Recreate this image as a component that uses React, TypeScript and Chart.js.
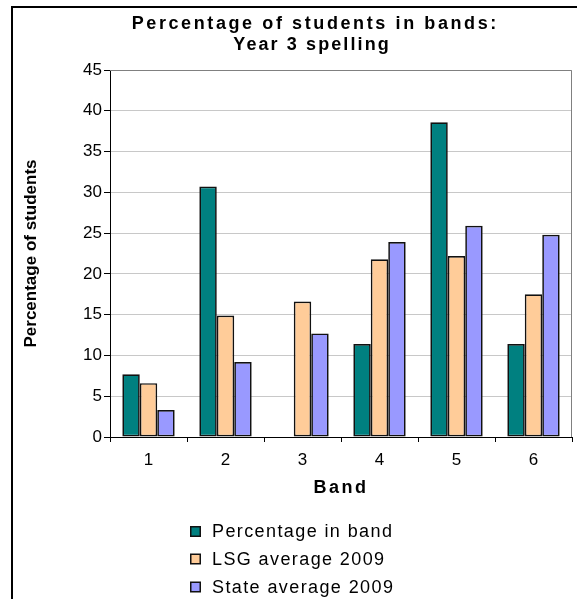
import React, { useEffect, useRef } from 'react';
import { Chart, registerables, CategoryScale, LinearScale } from 'chart.js';

Chart.register(...registerables);

// ---- data ----
const bands = ['1', '2', '3', '4', '5', '6'];
const percentageInBand = [7.7, 30.7, 0, 11.4, 38.6, 11.4];
const lsgAverage2009 = [6.6, 14.9, 16.6, 21.8, 22.2, 17.5];
const stateAverage2009 = [3.3, 9.2, 12.7, 23.9, 25.9, 24.8];
const seriesNames = ['Percentage in band', 'LSG average 2009', 'State average 2009'];
const seriesColors = ['#008080', '#FFCC99', '#9999FF'];
const titleLines = ['Percentage of students in bands:', 'Year 3 spelling'];
const xAxisTitle = 'Band';
const yAxisTitle = 'Percentage of students';
const yMin = 0;
const yMax = 45;
const yStep = 5;

const FONT = '"Liberation Sans", Arial, Helvetica, sans-serif';

function withTitleSpacing(Base: any, id: string, spacing: string) {
  class Spaced extends Base {
    drawTitle() {
      const ctx = (this as any).ctx;
      ctx.save();
      ctx.letterSpacing = spacing;
      super.drawTitle();
      ctx.restore();
    }
  }
  (Spaced as any).id = id;
  (Spaced as any).defaults = Base.defaults;
  return Spaced;
}

const SpacedCategory = withTitleSpacing(CategoryScale, 'spacedCategory', '2.5px');
const SpacedLinear = withTitleSpacing(LinearScale, 'spacedLinear', '0px');
Chart.register(SpacedCategory as any, SpacedLinear as any);

function drawSpaced(ctx: any, text: string, cx: number, y: number, spacing: number) {
  ctx.letterSpacing = spacing + 'px';
  const w = ctx.measureText(text).width - spacing;
  ctx.fillText(text, cx - w / 2, y);
}

const decorPlugin = {
  id: 'decor',
  beforeDatasetsDraw(chart: any) {
    const { ctx, chartArea: a } = chart;
    ctx.save();
    ctx.strokeStyle = '#808080';
    ctx.lineWidth = 1;
    ctx.beginPath();
    ctx.moveTo(a.left, a.top + 0.5);
    ctx.lineTo(a.right - 0.5, a.top + 0.5);
    ctx.lineTo(a.right - 0.5, a.bottom);
    ctx.stroke();
    ctx.restore();
  },
  afterDraw(chart: any) {
    const { ctx } = chart;
    ctx.save();
    // outer frame
    ctx.fillStyle = '#000';
    ctx.fillRect(11, 6, chart.width - 11, 2);
    ctx.fillRect(11, 6, 2, chart.height - 6);
    // title
    ctx.fillStyle = '#000';
    ctx.textAlign = 'left';
    ctx.textBaseline = 'alphabetic';
    ctx.font = `bold 18px ${FONT}`;
    drawSpaced(ctx, titleLines[0], 314, 29, 2.6);
    drawSpaced(ctx, titleLines[1], 311, 50, 2.1);
    // legend
    ctx.font = `18px ${FONT}`;
    const rowsY = [537, 564.5, 592.5];
    seriesNames.forEach((name, i) => {
      const by = rowsY[i] - 11;
      ctx.fillStyle = '#111';
      ctx.fillRect(190, by, 11, 11);
      ctx.fillStyle = seriesColors[i];
      ctx.fillRect(191.5, by + 1.5, 8, 8);
      ctx.fillStyle = '#000';
      ctx.letterSpacing = '1.4px';
      ctx.fillText(name, 212, rowsY[i]);
    });
    ctx.restore();
  },
};

export default function App() {
  const ref = useRef<HTMLCanvasElement>(null);
  useEffect(() => {
    if (!ref.current) return;
    Chart.defaults.font.family = FONT;
    Chart.defaults.color = '#000';
    const chart = new Chart(ref.current, {
      type: 'bar',
      data: {
        labels: bands,
        datasets: [percentageInBand, lsgAverage2009, stateAverage2009].map((d, i) => ({
          label: seriesNames[i],
          data: d,
          backgroundColor: seriesColors[i],
          borderColor: '#111',
          borderWidth: 1.7,
          borderSkipped: false,
          categoryPercentage: 0.68,
          barPercentage: 1,
        })),
      },
      options: {
        animation: false,
        responsive: true,
        maintainAspectRatio: false,
        layout: { padding: { left: 12, top: 70, right: 5, bottom: 100 } },
        plugins: {
          legend: { display: false },
          title: { display: false },
          tooltip: { enabled: false },
        },
        scales: {
          x: {
            type: 'spacedCategory' as any,
            offset: true,
            grid: {
              offset: true,
              drawOnChartArea: false,
              drawTicks: true,
              tickLength: 5,
              tickColor: '#000',
            },
            border: { color: '#000', width: 1 },
            ticks: { font: { size: 17 }, padding: 8, color: '#000' },
            title: {
              display: true,
              text: xAxisTitle,
              font: { size: 18, weight: 'bold' },
              padding: { top: 0, bottom: 0 },
              color: '#000',
            },
            afterFit: (s: any) => {
              s.height = 62;
            },
          },
          y: {
            type: 'spacedLinear' as any,
            min: yMin,
            max: yMax,
            grid: {
              color: '#c8c8c8',
              tickColor: '#000',
              tickLength: 6,
              drawTicks: true,
            },
            border: { color: '#000', width: 1 },
            ticks: { stepSize: yStep, font: { size: 17 }, padding: 2, color: '#000' },
            title: {
              display: true,
              text: yAxisTitle,
              font: { size: 17, weight: 'bold' },
              padding: { top: 9, bottom: 0 },
              color: '#000',
            },
            afterFit: (s: any) => {
              s.width = 98;
            },
          },
        },
      },
      plugins: [decorPlugin],
    } as any);
    return () => chart.destroy();
  }, []);
  return (
    <div style={{ position: 'absolute', left: 0, top: 0, width: 577, height: 599, background: '#fff' }}>
      <canvas ref={ref} />
    </div>
  );
}
